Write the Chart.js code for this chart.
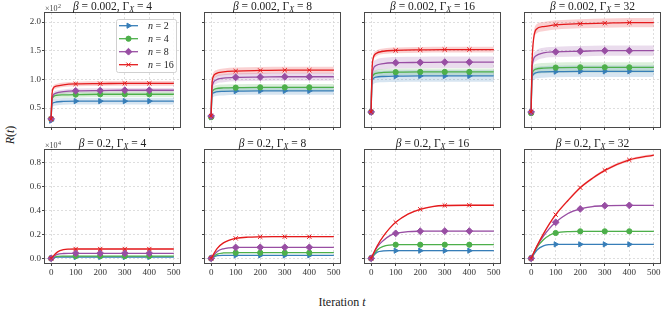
<!DOCTYPE html>
<html>
<head>
<meta charset="utf-8">
<script src="https://cdn.jsdelivr.net/npm/chart.js@4.4.0/dist/chart.umd.min.js"></script>
<style>
  body { margin: 0; background: #fff; width: 665px; height: 310px; position: relative; overflow: hidden; }
  canvas { position: absolute; }
  .axlab { position: absolute; font-family: 'Liberation Serif', serif; font-size: 12px; color: #222; white-space: nowrap; }
</style>
</head>
<body>
<div class="axlab" style="left:10px;top:135px;transform:translate(-50%,-50%) rotate(-90deg)"><i>R</i>(<i>t</i>)</div>
<div class="axlab" style="left:342px;top:302px;transform:translate(-50%,-50%)">Iteration <i>t</i></div>
<script>
// sample iterations
const tTop = [0, 3, 8, 20, 50, 100, 200, 300, 400, 500];
const tBottom = [0, 25, 50, 75, 100, 150, 200, 250, 300, 400, 500];
const markerSteps = [0, 100, 200, 300, 400];
const xTicks = [0, 100, 200, 300, 400, 500];
const yTicksTop = [50, 100, 150, 200];
const yTicksBottom = [0, 2000, 4000, 6000, 8000];

const nValues = [2, 4, 8, 16];
const betaValues = ['0.002', '0.2'];
const gammaValues = [4, 8, 16, 32];

// beta = 0.002 : mean R(t), one row per n (2, 4, 8, 16)
const rB002G4 = [
  [28, 55, 59, 60.5, 61.5, 62, 62, 62, 62, 62],
  [31, 62, 69, 72, 73, 73.5, 74, 74, 74, 74],
  [31, 62, 72, 76, 78.5, 80, 80.5, 81, 81, 81],
  [31, 70, 84, 88, 90.5, 92, 92.5, 93, 93, 93]
];
const rB002G8 = [
  [34, 70, 76, 78, 79, 79.5, 80, 80, 80, 80],
  [34, 74, 81, 84, 85, 85.5, 86, 86, 86, 86],
  [36, 80, 93, 99, 102, 103.5, 104, 104.5, 104.5, 104.5],
  [36, 88, 104, 110, 113, 114.5, 115.5, 116, 116, 116]
];
const rB002G16 = [
  [43, 92, 101, 104, 105, 105.5, 106, 106, 106, 106],
  [43, 97, 107, 110.5, 112, 112.5, 113, 113, 113, 113],
  [43, 100, 117, 124, 127.5, 129, 129.5, 130, 130, 130],
  [43, 110, 136, 145, 149, 150.5, 151.5, 152, 152, 152]
];
const rB002G32 = [
  [43, 98, 108, 111.5, 113, 113.5, 114, 114, 114, 114],
  [41, 102, 114, 118, 119.5, 120.5, 121, 121, 121, 121],
  [43, 110, 132, 141, 146, 148, 149, 150, 150, 150],
  [43, 120, 162, 187, 192, 195, 197, 198, 199, 199]
];

// beta = 0.2
const rB02G4 = [
  [0, 100, 110, 110, 110, 110, 110, 110, 110, 110, 110],
  [0, 170, 188, 190, 190, 190, 190, 190, 190, 190, 190],
  [0, 330, 405, 418, 420, 420, 420, 420, 420, 420, 420],
  [0, 520, 730, 770, 780, 780, 780, 780, 780, 780, 780]
];
const rB02G8 = [
  [0, 220, 245, 250, 250, 250, 250, 250, 250, 250, 250],
  [0, 360, 450, 465, 470, 470, 470, 470, 470, 470, 470],
  [0, 580, 800, 880, 910, 920, 920, 920, 920, 920, 920],
  [0, 840, 1290, 1530, 1670, 1770, 1800, 1810, 1810, 1810, 1810]
];
const rB02G16 = [
  [0, 520, 620, 640, 640, 640, 640, 640, 640, 640, 640],
  [0, 700, 1000, 1110, 1140, 1140, 1140, 1140, 1140, 1140, 1140],
  [0, 950, 1500, 1880, 2090, 2230, 2270, 2280, 2280, 2280, 2280],
  [0, 1050, 1850, 2500, 3010, 3700, 4100, 4330, 4420, 4440, 4440]
];
const rB02G32 = [
  [0, 720, 1050, 1150, 1170, 1170, 1170, 1170, 1170, 1170, 1170],
  [0, 950, 1550, 1930, 2120, 2240, 2260, 2260, 2260, 2260, 2260],
  [0, 1050, 1850, 2500, 3010, 3750, 4130, 4330, 4400, 4430, 4430],
  [0, 1085, 2045, 2900, 3650, 4840, 5910, 6700, 7360, 8230, 8640]
];

// spread (std) of each run, per n
const sdB002G4 = [6, 5, 4, 4];
const sdB002G8 = [7, 6, 7, 6];
const sdB002G16 = [10, 6, 10, 5];
const sdB002G32 = [10, 9, 9, 8];
const sdB02G4 = [15, 15, 20, 25];
const sdB02G8 = [20, 25, 30, 40];
const sdB02G16 = [40, 30, 40, 60];
const sdB02G32 = [30, 40, 60, 110];

const colors = ['#377eb8', '#4daf4a', '#984ea3', '#e41a1c'];
const bandColors = ['rgba(55,126,184,0.2)', 'rgba(77,175,74,0.2)', 'rgba(152,78,163,0.2)', 'rgba(228,26,28,0.2)'];
const markers = [
  { pointStyle: 'triangle', rotation: 90, radius: 3 },
  { pointStyle: 'circle', rotation: 0, radius: 2.6 },
  { pointStyle: 'rectRot', rotation: 0, radius: 3.4 },
  { pointStyle: 'crossRot', rotation: 0, radius: 3 }
];

const SERIF = "'Liberation Serif', serif";

const panels = [
  { row: 0, col: 0, mean: rB002G4, sd: sdB002G4 },
  { row: 0, col: 1, mean: rB002G8, sd: sdB002G8 },
  { row: 0, col: 2, mean: rB002G16, sd: sdB002G16 },
  { row: 0, col: 3, mean: rB002G32, sd: sdB002G32 },
  { row: 1, col: 0, mean: rB02G4, sd: sdB02G4 },
  { row: 1, col: 1, mean: rB02G8, sd: sdB02G8 },
  { row: 1, col: 2, mean: rB02G16, sd: sdB02G16 },
  { row: 1, col: 3, mean: rB02G32, sd: sdB02G32 }
];

function drawPieces(ctx, pieces, cx, y) {
  let total = 0;
  pieces.forEach(p => { ctx.font = p[0]; total += ctx.measureText(p[1]).width; });
  let x = cx - total / 2;
  pieces.forEach(p => {
    ctx.font = p[0];
    ctx.fillText(p[1], x, y + p[2]);
    x += ctx.measureText(p[1]).width;
  });
}

// titles, frame, multiplier and legend
const decorPlugin = {
  id: 'decor',
  afterDraw(chart, args, opts) {
    const ctx = chart.ctx;
    const a = chart.chartArea;
    ctx.save();
    ctx.strokeStyle = '#4a4a4a';
    ctx.lineWidth = 1;
    ctx.strokeRect(Math.round(a.left) - 0.5, Math.round(a.top) - 0.5, Math.round(a.right - a.left) + 1, Math.round(a.bottom - a.top) + 1);

    ctx.fillStyle = '#222';
    ctx.textBaseline = 'alphabetic';
    const f = '11.5px ' + SERIF;
    drawPieces(ctx, [
      ['italic ' + f, 'β', 0],
      [f, ' = ' + opts.beta + ', ', 0],
      [f, 'Γ', 0],
      ['italic 8px ' + SERIF, 'X', 2.5],
      [f, ' = ' + opts.gamma, 0]
    ], (a.left + a.right) / 2, a.top - 3.5);

    if (opts.exp) {
      ctx.font = '8px ' + SERIF;
      ctx.fillStyle = '#444';
      ctx.fillText('×10', a.left, a.top - 2);
      const w = ctx.measureText('×10').width;
      ctx.font = '6px ' + SERIF;
      ctx.fillText(opts.exp, a.left + w + 0.5, a.top - 5);
    }

    if (opts.legend) {
      const bx = a.right - 64, by = a.top + 6, bw = 60, bh = 53;
      ctx.fillStyle = 'rgba(255,255,255,0.85)';
      ctx.strokeStyle = '#d0d0d0';
      ctx.beginPath();
      ctx.roundRect(bx + 0.5, by + 0.5, bw, bh, 2);
      ctx.fill();
      ctx.stroke();
      nValues.forEach((n, i) => {
        const y = by + 6.7 + i * 13;
        ctx.strokeStyle = colors[i];
        ctx.fillStyle = colors[i];
        ctx.lineWidth = 1.3;
        ctx.beginPath();
        ctx.moveTo(bx + 3, y);
        ctx.lineTo(bx + 22, y);
        ctx.stroke();
        ctx.lineWidth = 1;
        Chart.helpers.drawPoint(ctx, { pointStyle: markers[i].pointStyle, rotation: markers[i].rotation, radius: markers[i].radius, borderWidth: 1 }, bx + 12.5, y);
        ctx.fillStyle = '#222';
        ctx.font = 'italic 10px ' + SERIF;
        ctx.fillText('n', bx + 32, y + 3.5);
        const w = ctx.measureText('n').width;
        ctx.font = '10px ' + SERIF;
        ctx.fillText(' = ' + n, bx + 32 + w, y + 3.5);
      });
    }
    ctx.restore();
  }
};

panels.forEach(p => {
  const L = 45 + 160 * p.col;
  const T = p.row ? 150 : 13;
  const H = p.row ? 113 : 114;
  const canvas = document.createElement('canvas');
  canvas.width = 192;
  canvas.height = H + 36;
  canvas.style.left = (L - 45) + 'px';
  canvas.style.top = (T - 14) + 'px';
  document.body.appendChild(canvas);

  const tValues = p.row ? tBottom : tTop;
  const datasets = [];
  p.mean.forEach((series, i) => {
    datasets.push({
      data: series.map((v, k) => ({ x: tValues[k], y: v + p.sd[i] })),
      fill: '+1', backgroundColor: bandColors[i], borderWidth: 0, pointRadius: 0, order: 10
    });
    datasets.push({
      data: series.map((v, k) => ({ x: tValues[k], y: v - p.sd[i] })),
      fill: false, borderWidth: 0, pointRadius: 0, order: 10
    });
  });
  p.mean.forEach((series, i) => {
    datasets.push({
      label: 'n = ' + nValues[i],
      data: series.map((v, k) => ({ x: tValues[k], y: v })),
      borderColor: colors[i],
      backgroundColor: colors[i],
      borderWidth: 1.3,
      fill: false,
      order: 4 - i,
      pointStyle: markers[i].pointStyle,
      rotation: markers[i].rotation,
      pointRadius: c => markerSteps.includes(c.raw.x) ? markers[i].radius : 0,
      pointBorderWidth: 1,
      pointBackgroundColor: colors[i],
      pointBorderColor: colors[i]
    });
  });

  const gridOpts = { color: '#d6d6d6', lineWidth: 0.8, tickLength: 3, tickColor: '#444', tickWidth: 1 };
  const scale = p.row ? 10000 : 100;

  new Chart(canvas, {
    type: 'line',
    data: { datasets: datasets },
    options: {
      responsive: false,
      animation: false,
      events: [],
      layout: { padding: { left: 0, top: 14, right: 12, bottom: 0 } },
      elements: { line: { cubicInterpolationMode: 'monotone' } },
      scales: {
        x: {
          type: 'linear', min: -25, max: 525,
          afterBuildTicks: s => { s.ticks = xTicks.map(v => ({ value: v })); },
          afterFit: s => { s.height = 22; },
          ticks: { display: p.row === 1, color: '#333', padding: 1, maxRotation: 0, font: { family: SERIF, size: 9 } },
          grid: gridOpts,
          border: { display: false, dash: [2, 2] }
        },
        y: {
          min: p.row ? -390 : 16.9,
          max: p.row ? 9060 : 215.7,
          afterBuildTicks: s => { s.ticks = (p.row ? yTicksBottom : yTicksTop).map(v => ({ value: v })); },
          afterFit: s => { s.width = 45; },
          ticks: {
            display: p.col === 0, color: '#333', padding: 1,
            font: { family: SERIF, size: 9 },
            callback: v => (v / scale).toFixed(1)
          },
          grid: gridOpts,
          border: { display: false, dash: [2, 2] }
        }
      },
      plugins: {
        legend: { display: false },
        tooltip: { enabled: false },
        decor: {
          beta: betaValues[p.row],
          gamma: gammaValues[p.col],
          exp: p.col === 0 ? (p.row ? '4' : '2') : null,
          legend: p.row === 0 && p.col === 0
        }
      }
    },
    plugins: [decorPlugin]
  });
});
</script>
</body>
</html>
